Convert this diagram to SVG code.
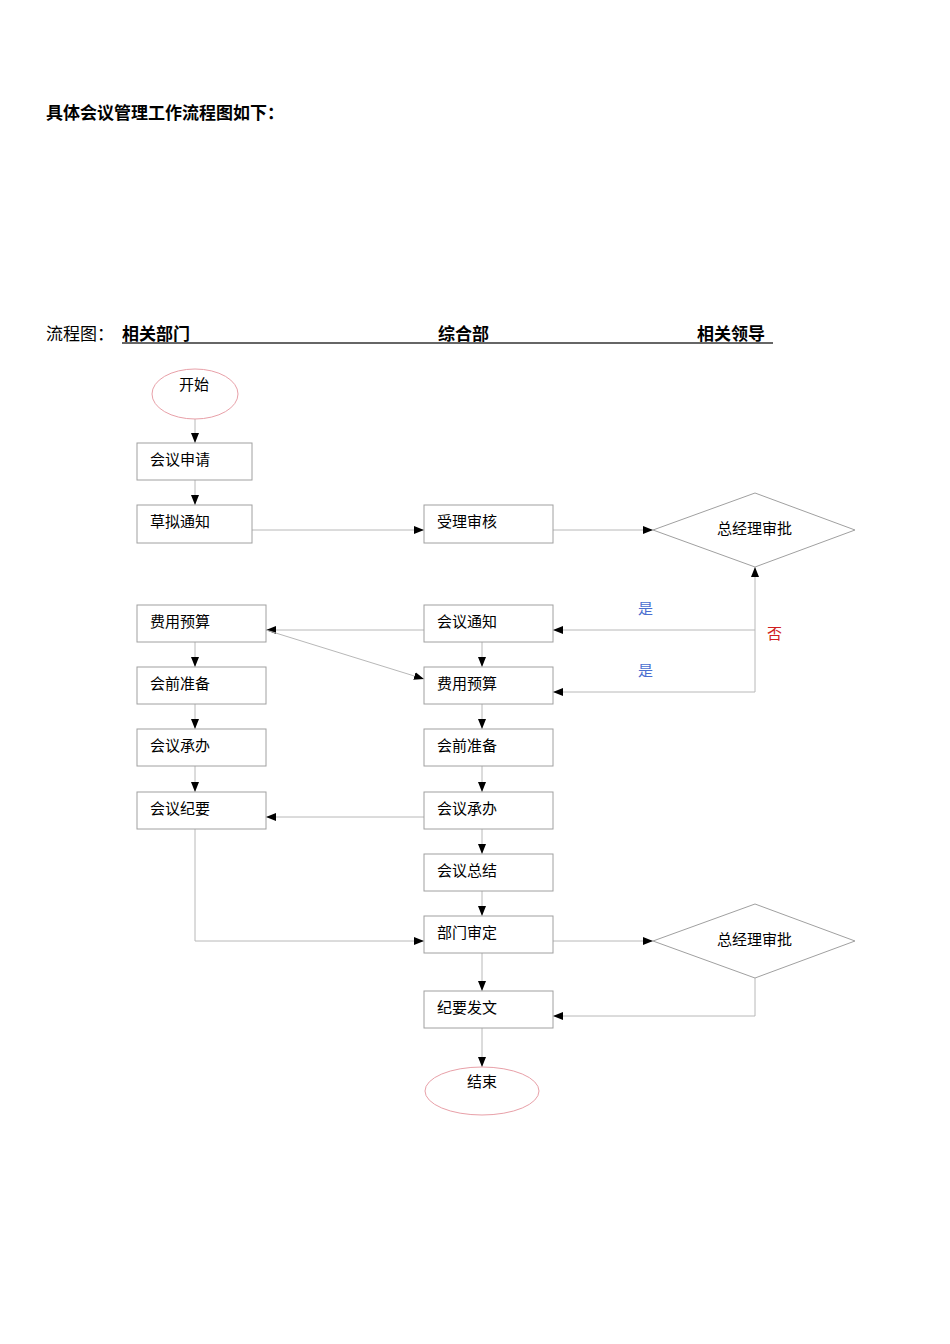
<svg xmlns="http://www.w3.org/2000/svg" width="950" height="1344" viewBox="0 0 950 1344">
<style>
text{font-family:"Noto Sans CJK SC","Noto Sans",sans-serif;font-size:15px;fill:#000}
.b{fill:#fff;stroke:#a0a0a0;stroke-width:1}
.c line,.c polyline{stroke:#b8b8b8;stroke-width:1;fill:none;marker-end:url(#a)}
.h{font-weight:bold;font-size:17px}
</style>
<defs><marker id="a" viewBox="0 0 10 10" refX="10" refY="5" markerWidth="10" markerHeight="10" markerUnits="userSpaceOnUse" orient="auto"><path d="M0,1 L10,5 L0,9 z" fill="#000"/></marker></defs>
<rect width="950" height="1344" fill="#fff"/>
<text x="46" y="119" class="h">具体会议管理工作流程图如下：</text>
<text x="46" y="340" style="font-size:17px">流程图：</text>
<text x="122" y="340" class="h">相关部门</text>
<text x="438" y="340" class="h">综合部</text>
<text x="697" y="340" class="h">相关领导</text>
<line x1="122" y1="343" x2="773" y2="343" stroke="#333" stroke-width="1.3"/>
<g class="c">
<line x1="195" y1="419" x2="195" y2="443"/>
<line x1="195" y1="480" x2="195" y2="505"/>
<line x1="252" y1="530" x2="424" y2="530"/>
<line x1="553" y1="530" x2="653" y2="530"/>
<line x1="755" y1="692" x2="755" y2="567"/>
<line x1="755" y1="630" x2="553" y2="630"/>
<polyline points="755,692 553,692"/>
<line x1="424" y1="630" x2="266" y2="630"/>
<line x1="266" y1="630" x2="424" y2="679"/>
<line x1="482" y1="642" x2="482" y2="667"/>
<line x1="482" y1="704" x2="482" y2="729"/>
<line x1="482" y1="766" x2="482" y2="792"/>
<line x1="482" y1="829" x2="482" y2="854"/>
<line x1="482" y1="891" x2="482" y2="916"/>
<line x1="482" y1="953" x2="482" y2="991"/>
<line x1="482" y1="1028" x2="482" y2="1067"/>
<line x1="195" y1="642" x2="195" y2="667"/>
<line x1="195" y1="704" x2="195" y2="729"/>
<line x1="195" y1="766" x2="195" y2="792"/>
<line x1="424" y1="817" x2="266" y2="817"/>
<polyline points="195,829 195,941 424,941"/>
<line x1="553" y1="941" x2="653" y2="941"/>
<polyline points="755,978 755,1016 553,1016"/>
</g>
<text x="638" y="614" style="fill:#4a6fd0">是</text>
<text x="638" y="676" style="fill:#4a6fd0">是</text>
<text x="767" y="639" style="fill:#d02020">否</text>
<g id="start"><ellipse cx="195" cy="394" rx="43" ry="25" fill="#fff" stroke="#e8a0a8"/><text x="179" y="390">开始</text></g>
<g id="n1"><rect class="b" x="137" y="443" width="115" height="37"/><text x="150" y="465">会议申请</text></g>
<g id="n2"><rect class="b" x="137" y="505" width="115" height="38"/><text x="150" y="527">草拟通知</text></g>
<g id="n3"><rect class="b" x="424" y="505" width="129" height="38"/><text x="437" y="527">受理审核</text></g>
<g id="d1"><polygon class="b" points="653,530 755,493 855,530 755,567"/><text x="717" y="534">总经理审批</text></g>
<g id="l1"><rect class="b" x="137" y="605" width="129" height="37"/><text x="150" y="627">费用预算</text></g>
<g id="l2"><rect class="b" x="137" y="667" width="129" height="37"/><text x="150" y="689">会前准备</text></g>
<g id="l3"><rect class="b" x="137" y="729" width="129" height="37"/><text x="150" y="751">会议承办</text></g>
<g id="l4"><rect class="b" x="137" y="792" width="129" height="37"/><text x="150" y="814">会议纪要</text></g>
<g id="m1"><rect class="b" x="424" y="605" width="129" height="37"/><text x="437" y="627">会议通知</text></g>
<g id="m2"><rect class="b" x="424" y="667" width="129" height="37"/><text x="437" y="689">费用预算</text></g>
<g id="m3"><rect class="b" x="424" y="729" width="129" height="37"/><text x="437" y="751">会前准备</text></g>
<g id="m4"><rect class="b" x="424" y="792" width="129" height="37"/><text x="437" y="814">会议承办</text></g>
<g id="m5"><rect class="b" x="424" y="854" width="129" height="37"/><text x="437" y="876">会议总结</text></g>
<g id="m6"><rect class="b" x="424" y="916" width="129" height="37"/><text x="437" y="938">部门审定</text></g>
<g id="d2"><polygon class="b" points="653,941 755,904 855,941 755,978"/><text x="717" y="945">总经理审批</text></g>
<g id="m7"><rect class="b" x="424" y="991" width="129" height="37"/><text x="437" y="1013">纪要发文</text></g>
<g id="end"><ellipse cx="482" cy="1091" rx="57" ry="24" fill="#fff" stroke="#e8a0a8"/><text x="467" y="1087">结束</text></g>
</svg>
